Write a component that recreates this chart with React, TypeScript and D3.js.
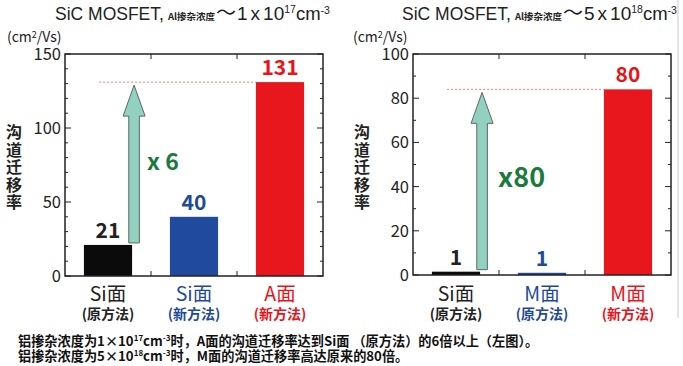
import React from "react";
import * as d3 from "d3";

const leftCategories = ["Si面", "Si面", "A面"];
const leftMethods = ["(原方法)", "(新方法)", "(新方法)"];
const leftValues = [21, 40, 131];
const leftLabels = ["21", "40", "131"];
const leftTicks = [0, 50, 100, 150];

const rightCategories = ["Si面", "M面", "M面"];
const rightMethods = ["(原方法)", "(原方法)", "(新方法)"];
const rightValues = [1.5, 1, 84];
const rightLabels = ["1", "1", "80"];
const rightTicks = [0, 20, 40, 60, 80, 100];

const barColors = ["#0b0b0b", "#1f4a9e", "#e8161d"];
const textColors = ["#222222", "#1f4a96", "#e8141c"];
const GREEN = "#1b7a3e";
const CJK = "'Noto Sans CJK SC', sans-serif";
const LAT = "'Liberation Sans', Arial, sans-serif";

type PanelProps = {
  x0: number; x1: number; y0: number; y1: number;
  yMax: number; minorStep: number;
  ticks: number[];
  categories: string[]; methods: string[]; values: number[]; labels: string[];
  mult: string; multDx: number; multY: number; multSize: number;
  unitX: number; titleX: number; yTitleX: number;
  title: { dope: string; sup: string };
};

function Panel(p: PanelProps) {
  const x = d3.scaleBand<number>().domain([0, 1, 2]).range([p.x0, p.x1]).paddingInner(0.44).paddingOuter(0.22);
  const y = d3.scaleLinear().domain([0, p.yMax]).range([p.y1, p.y0]);
  const minors = d3.range(0, p.yMax + 0.001, p.minorStep).filter((v) => !p.ticks.includes(v));
  const bounds = [1, 2].map((i) => p.x0 + (p.x1 - p.x0) * (i / 3));
  const ac = (x(0) as number) + x.bandwidth() + 2;
  const aBot = y(p.values[0]) - 2;
  const aTip = y(p.values[2]) + 3;
  const hb = aTip + 31;
  const sw = 5.3, hw = 11;
  const arrow = `M${ac - sw},${aBot} L${ac - sw},${hb} L${ac - hw},${hb} L${ac},${aTip} L${ac + hw},${hb} L${ac + sw},${hb} L${ac + sw},${aBot} Z`;
  const yChars = ["沟", "道", "迁", "移", "率"];
  return (
    <g>
      {/* title */}
      <text x={p.titleX} y={20} fontFamily={LAT} fontSize={17.5} fill="#222">
        SiC MOSFET,
        <tspan fontFamily={CJK} fontSize={9.5} fontWeight="bold" dx={4}>Al掺杂浓度</tspan>
        <tspan fontFamily={CJK} fontSize={20} dx={1}>～</tspan>
        <tspan fontSize={19} dx={1}>{p.title.dope}</tspan>
        <tspan fontSize={19} dx={3}>x</tspan>
        <tspan fontSize={19} dx={3}>10</tspan>
        <tspan fontSize={10.5} dy={-7}>{p.title.sup}</tspan>
        <tspan fontSize={18.5} dy={7}>cm</tspan>
        <tspan fontSize={10.5} dy={-6}>-3</tspan>
      </text>
      {/* unit */}
      <text x={p.unitX} y={42} fontFamily={CJK} fontSize={14} fill="#222">
        (cm<tspan fontSize={9} dy={-4}>2</tspan><tspan dy={4}>/Vs)</tspan>
      </text>
      {/* y title */}
      {yChars.map((c, i) => (
        <text key={i} x={p.yTitleX} y={138 + i * 17.5} textAnchor="middle" fontFamily={CJK} fontWeight="bold" fontSize={16} fill="#222">{c}</text>
      ))}
      {/* tick labels */}
      {p.ticks.map((t) => (
        <text key={t} x={p.x0 - 4} y={y(t) + 6} textAnchor="end" fontFamily={CJK} fontSize={16.5} fill="#222">{t}</text>
      ))}
      {/* dashed line */}
      <line x1={ac - 35} x2={x(2) as number} y1={y(p.values[2])} y2={y(p.values[2])} stroke="#f07a6a" strokeWidth={1} strokeDasharray="2,2" />
      {/* bars */}
      {p.values.map((v, i) => (
        <rect key={i} x={x(i) as number} y={y(v)} width={x.bandwidth()} height={p.y1 - y(v)} fill={barColors[i]} />
      ))}
      {/* arrow */}
      <path d={arrow} fill="#92d0c0" stroke="#5a6a66" strokeWidth={1} />
      <text x={ac + p.multDx} y={p.multY} fontFamily={CJK} fontWeight="bold" fontSize={p.multSize} fill={GREEN}>{p.mult}</text>
      {/* value labels */}
      {p.values.map((v, i) => (
        <text key={i} x={(x(i) as number) + x.bandwidth() / 2} y={y(v) - 7} textAnchor="middle" fontFamily={CJK} fontWeight="bold" fontSize={21} fill={textColors[i]}>{p.labels[i]}</text>
      ))}
      {/* frame */}
      <rect x={p.x0} y={p.y0} width={p.x1 - p.x0} height={p.y1 - p.y0} fill="none" stroke="#222" strokeWidth={1.5} />
      {p.ticks.map((t) => (
        <g key={"M" + t}>
          <line x1={p.x0} x2={p.x0 + 6} y1={y(t)} y2={y(t)} stroke="#222" />
          <line x1={p.x1} x2={p.x1 - 6} y1={y(t)} y2={y(t)} stroke="#222" />
        </g>
      ))}
      {minors.map((t) => (
        <g key={"m" + t}>
          <line x1={p.x0} x2={p.x0 + 3} y1={y(t)} y2={y(t)} stroke="#222" />
          <line x1={p.x1} x2={p.x1 - 3} y1={y(t)} y2={y(t)} stroke="#222" />
        </g>
      ))}
      {bounds.map((bx, i) => (
        <g key={"b" + i}>
          <line x1={bx} x2={bx} y1={p.y0} y2={p.y0 + 5} stroke="#222" />
          <line x1={bx} x2={bx} y1={p.y1} y2={p.y1 - 5} stroke="#222" />
        </g>
      ))}
      {/* category labels */}
      {p.categories.map((c, i) => (
        <g key={"c" + i}>
          <text x={(x(i) as number) + x.bandwidth() / 2} y={301} textAnchor="middle" fontFamily={CJK} fontSize={19.5} fill={textColors[i]}>{c}</text>
          <text x={(x(i) as number) + x.bandwidth() / 2} y={318.5} textAnchor="middle" fontFamily={CJK} fontWeight="bold" fontSize={14} fill={textColors[i]}>{p.methods[i]}</text>
        </g>
      ))}
    </g>
  );
}

export default function App() {
  return (
    <svg width={683} height={366} style={{ position: "absolute", left: 0, top: 0, background: "#fff" }}>
      <rect width={683} height={366} fill="#fff" />
      <line x1={678} x2={678} y1={0} y2={318} stroke="#e4e4e4" strokeWidth={2} />
      <Panel x0={65} x1={323} y0={54} y1={276} yMax={150} minorStep={10} ticks={leftTicks}
        categories={leftCategories} methods={leftMethods} values={leftValues} labels={leftLabels}
        mult="x 6" multDx={13} multY={170} multSize={23}
        unitX={7} titleX={55} yTitleX={14} title={{ dope: "1", sup: "17" }} />
      <Panel x0={413} x1={671} y0={54} y1={275} yMax={100} minorStep={10} ticks={rightTicks}
        categories={rightCategories} methods={rightMethods} values={rightValues} labels={rightLabels}
        mult="x80" multDx={16} multY={187} multSize={27}
        unitX={353} titleX={402} yTitleX={362} title={{ dope: "5", sup: "18" }} />
      <text x={18} y={345.5} fontFamily={CJK} fontWeight="bold" fontSize={13.2} fill="#111">
        铝掺杂浓度为1×10<tspan fontSize={8} dy={-5}>17</tspan><tspan dy={5}>cm</tspan><tspan fontSize={8} dy={-5}>-3</tspan><tspan dy={5}>时，A面的沟道迁移率达到Si面 （原方法）的6倍以上（左图）。</tspan>
      </text>
      <text x={18} y={360.5} fontFamily={CJK} fontWeight="bold" fontSize={13.2} fill="#111">
        铝掺杂浓度为5×10<tspan fontSize={8} dy={-5}>18</tspan><tspan dy={5}>cm</tspan><tspan fontSize={8} dy={-5}>-3</tspan><tspan dy={5}>时，M面的沟道迁移率高达原来的80倍。</tspan>
      </text>
    </svg>
  );
}
